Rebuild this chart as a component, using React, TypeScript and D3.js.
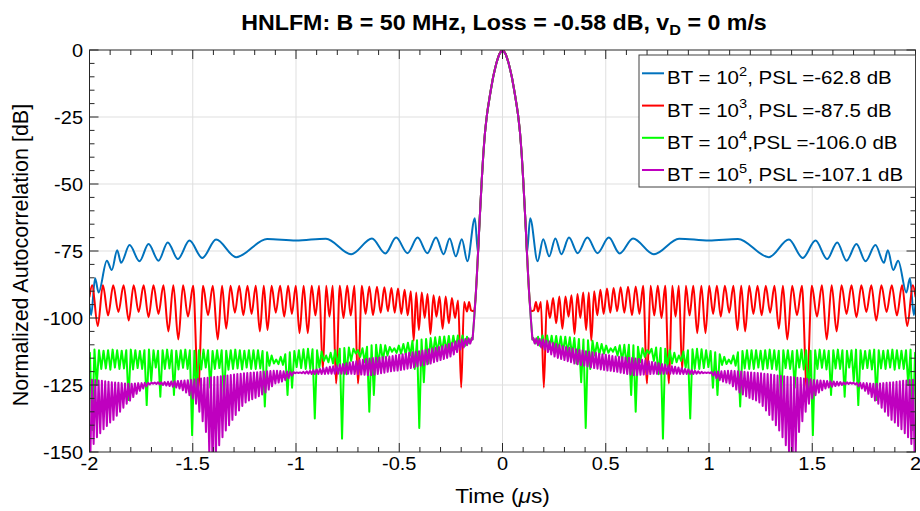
import React from 'react';
import * as d3 from 'd3';

const W = 920, H = 511;
const M = { left: 89.5, right: 915.5, top: 50, bottom: 452 };
const SX = 1.08;
const FONT = '"Liberation Sans", Arial, Helvetica, sans-serif';

const xTicks = [-2, -1.5, -1, -0.5, 0, 0.5, 1, 1.5, 2];
const xTickLabels = ['-2', '-1.5', '-1', '-0.5', '0', '0.5', '1', '1.5', '2'];
const yTicks = [0, -25, -50, -75, -100, -125, -150];
const yTickLabels = ['0', '-25', '-50', '-75', '-100', '-125', '-150'];

const legendExp = ['2', '3', '4', '5'];
const legendRest = [', PSL =-62.8 dB', ', PSL =-87.5 dB', ',PSL =-106.0 dB', ', PSL =-107.1 dB'];
const colors = ['#0072BD', '#FF0000', '#00FF00', '#BF00BF'];

// main lobe (shared), t >= 0 in microseconds, dB
const MAIN_LOBE_T = [0, 0.015, 0.03, 0.045, 0.06, 0.075, 0.085, 0.093, 0.1, 0.107, 0.113, 0.118, 0.124, 0.13, 0.137, 0.145];
const MAIN_LOBE_DB = [0, -1.5, -5, -10, -16.5, -24, -31, -39, -48, -58, -67, -75, -84, -92, -100, -108];

// BT = 10^2 sidelobes (peaks / nulls), t >= 0
const BLUE_SIDE: [number, number][] = [
  [0.118, -76], [0.134, -62.8], [0.17, -78.8], [0.197, -70.6], [0.226, -77], [0.256, -70.3], [0.285, -76.2],
  [0.322, -70], [0.364, -75.8], [0.411, -70], [0.46, -75.8], [0.515, -70], [0.567, -75.9], [0.632, -70.3],
  [0.733, -76.2], [0.855, -70.4], [1.0, -71.1], [1.14, -70.5], [1.29, -77.3], [1.387, -70.7], [1.454, -77.6],
  [1.516, -71.1], [1.572, -78], [1.621, -71.8], [1.666, -78.6], [1.714, -72.4], [1.758, -78.8], [1.806, -72.8],
  [1.847, -79.4], [1.866, -74.7], [1.892, -82.1], [1.916, -78.6], [1.956, -90.5], [1.973, -85.2], [1.992, -98.9],
  [2.0, -95]
];

// BT = 10^3 sidelobes, t >= 0
const RED_SIDE: [number, number][] = [
  [0.138, -97.5], [0.152, -97.2], [0.162, -94], [0.172, -97.6], [0.186, -94], [0.2, -126], [0.215, -93.5],
  [0.23, -100], [0.245, -92.5], [0.26, -102], [0.275, -92], [0.29, -104], [0.305, -92], [0.32, -99.5],
  [0.334, -91.5], [0.349, -106], [0.363, -91], [0.377, -100], [0.391, -90.5], [0.405, -104.5], [0.418, -90.5],
  [0.43, -108.5], [0.444, -90], [0.459, -99], [0.474, -89.5], [0.49, -98.5], [0.506, -89], [0.522, -98],
  [0.538, -88.8], [0.555, -97.5], [0.572, -88.5], [0.59, -98], [0.608, -88.3], [0.627, -99], [0.645, -88.2],
  [0.663, -98.5], [0.681, -88], [0.7, -124.4], [0.717, -88], [0.735, -99], [0.752, -88], [0.77, -100],
  [0.788, -88], [0.806, -124.4], [0.822, -88], [0.838, -99.5], [0.854, -88], [0.87, -119.4], [0.888, -88],
  [0.906, -99], [0.924, -88], [0.943, -105.7], [0.963, -88], [0.983, -105.7], [1.001, -88], [1.02, -98.5],
  [1.038, -88], [1.057, -99.5], [1.077, -88], [1.098, -98], [1.118, -88], [1.138, -104.5], [1.156, -88],
  [1.175, -105], [1.195, -88], [1.215, -98.5], [1.235, -88], [1.255, -99], [1.275, -88], [1.296, -98],
  [1.317, -88], [1.338, -104], [1.358, -88], [1.379, -108], [1.403, -88], [1.426, -99], [1.45, -88],
  [1.474, -127], [1.498, -88], [1.523, -99.5], [1.547, -87.8], [1.57, -108], [1.594, -87.8], [1.618, -105],
  [1.642, -87.8], [1.666, -98.5], [1.69, -87.8], [1.714, -99.7], [1.738, -87.8], [1.762, -97.8], [1.786, -87.8],
  [1.81, -100.9], [1.835, -87.8], [1.86, -97.8], [1.885, -87.8], [1.91, -99], [1.935, -87.8], [1.96, -103],
  [1.987, -87.8], [2.0, -92]
];

// BT = 10^4: per-cycle highs and lows (cycle 0.022 us, from t = 0.15)
const GREEN_T0 = 0.15, GREEN_HALF = 0.011;
const GREEN_HI = [
  -107.5, -107, -106.5, -106.5, -106.6, -106.7, -106.9, -107, -107.2, -107.5,
  -107.8, -108, -108.3, -108.5, -109.2, -109.7, -110.3, -111.3, -110.8, -110.2,
  -110, -110, -110.2, -110.7, -111.3, -112, -111.5, -111, -111.2, -111.5,
  -112, -113, -114, -112.5, -112, -111.7, -111.5, -111.7, -112, -112.3,
  -112.8, -113.5, -114.5, -115.5, -114, -112.8, -112.3, -112, -112, -112,
  -112.2, -112, -111.8, -112, -112.2, -112, -112, -112.3, -112, -111.8,
  -112, -112.2, -112, -111.8, -112, -112.2, -112, -111.8, -112, -112.2,
  -112, -111.8, -112, -112.3, -112, -111.8, -112, -112.2, -112, -111.8,
  -112, -112.2, -112, -111.8, -113
];
const GREEN_LO = [
  -109.5, -110.5, -111.2, -111.6, -112, -112.3, -112.7, -113, -113.8, -117,
  -124, -141, -119, -114, -113.6, -113.3, -113, -112.6, -114, -116,
  -117.5, -128.7, -135, -116.5, -114.5, -113.2, -116, -121, -145, -118,
  -117, -116.5, -116, -118.5, -137.5, -119, -119, -118.7, -118.3, -126,
  -128.7, -117.5, -117.2, -117, -117.8, -133, -118.8, -119, -119, -118.5,
  -119.2, -118.8, -119, -119.3, -130.6, -118.7, -119, -126, -118.5, -119.2,
  -128, -143.7, -119, -118.6, -119.2, -128.7, -118.8, -119, -129.4, -118.5,
  -123.5, -132.5, -119, -118.7, -119.2, -130.6, -118.8, -119, -118.5, -119.3,
  -118.8, -119, -125, -141.8
];

// BT = 10^5: per-cycle highs and lows (cycle 0.016 us, from t = 0.148)
const PURPLE_T0 = 0.148, PURPLE_HALF = 0.008;
const PURPLE_HI = [
  -107.5, -107.6, -107.8, -108, -108.4, -108.8, -109.3, -109.7, -110.1, -110.5,
  -110.8, -111.1, -111.4, -111.7, -111.9, -112.1, -112.4, -112.6, -112.8, -113,
  -113.3, -113.5, -113.7, -113.9, -114.2, -114.4, -114.5, -114.6, -114.7, -114.8,
  -114.9, -115.1, -115.3, -115.6, -115.8, -116.1, -116.4, -116.6, -116.9, -117.2,
  -117.4, -117.7, -118, -118.2, -118.5, -118.7, -119, -119.2, -119.5, -119.7,
  -119.9, -120.1, -120.3, -120.3, -120.2, -120.1, -120, -119.9, -119.8, -119.7,
  -119.7, -119.8, -119.9, -120, -120.1, -120.2, -120.3, -120.4, -120.5, -120.6,
  -120.8, -120.9, -121.1, -121.3, -121.5, -121.6, -121.7, -121.9, -122, -122.1,
  -122.3, -122.4, -122.6, -122.8, -122.9, -123.1, -123.2, -123.3, -123.4, -123.5,
  -123.6, -123.7, -123.8, -123.9, -124, -124, -124.1, -124.1, -124.2, -124.2,
  -124.3, -124.3, -124.4, -124.5, -124.5, -124.4, -124.3, -124.2, -124.1, -124,
  -123.8, -123.6, -123.4, -123.3, -123.1, -123
];
const PURPLE_LO = [
  -109.5, -110.2, -111, -111.8, -112.7, -113.6, -114.4, -114.9, -115.3, -115.7,
  -116.1, -116.5, -117, -117.3, -117.6, -117.8, -118.1, -118.4, -118.7, -118.9,
  -119.2, -119.4, -119.6, -119.7, -119.9, -120.1, -120.4, -120.6, -120.9, -121.1,
  -121.3, -121.3, -121.2, -121.1, -121, -120.9, -120.8, -120.8, -120.8, -120.8,
  -120.8, -120.8, -120.8, -120.8, -120.9, -120.9, -120.9, -120.9, -120.9, -120.8,
  -120.7, -120.6, -120.5, -120.6, -121.5, -122.5, -123.2, -123.7, -124.1, -124.4,
  -125.5, -126.7, -127.8, -128.5, -129.2, -129.8, -130.3, -130.8, -131.5, -132.8,
  -134.5, -136.2, -138, -140, -142, -144.5, -147.5, -152, -155, -150,
  -142.5, -138.5, -135, -132, -130, -128.8, -127.8, -127, -126.3, -125.9,
  -125.6, -125.4, -125.2, -125, -124.8, -124.6, -124.5, -124.8, -125.5, -126.3,
  -127.2, -128.3, -129.5, -130.8, -132, -133.5, -135, -136.5, -138, -139,
  -140.3, -141.5, -143, -144.5, -147, -152
];

type P = [number, number];

function mainLobe(maxT: number): P[] {
  return MAIN_LOBE_T.map((t, i) => [t, MAIN_LOBE_DB[i]] as P).filter(p => p[0] <= maxT + 1e-9);
}
function interleave(hi: number[], lo: number[], t0: number, h: number): P[] {
  const out: P[] = [];
  for (let k = 0; k < hi.length; k++) {
    out.push([t0 + 2 * k * h, hi[k]]);
    if (k < lo.length) out.push([t0 + (2 * k + 1) * h, lo[k]]);
  }
  return out;
}
function mirror(half: P[]): P[] {
  const left = half.filter(p => p[0] > 0).map(p => [-p[0], p[1]] as P).reverse();
  return left.concat(half);
}

const x = d3.scaleLinear().domain([-2, 2]).range([M.left, M.right]);
const y = d3.scaleLinear().domain([-150, 0]).range([M.bottom, M.top]);

const seriesData: { pts: P[]; curve: any; color: string }[] = [
  { pts: mirror(mainLobe(0.113).concat(BLUE_SIDE)), curve: d3.curveMonotoneX, color: colors[0] },
  { pts: mirror(mainLobe(0.13).concat(RED_SIDE)), curve: d3.curveMonotoneX, color: colors[1] },
  { pts: mirror(mainLobe(0.145).concat(interleave(GREEN_HI, GREEN_LO, GREEN_T0, GREEN_HALF))), curve: d3.curveLinear, color: colors[2] },
  { pts: mirror(mainLobe(0.145).concat(interleave(PURPLE_HI, PURPLE_LO, PURPLE_T0, PURPLE_HALF))), curve: d3.curveLinear, color: colors[3] },
];

function Txt(props: { x: number; y: number; size: number; anchor?: string; weight?: string; rotate?: number; children: any }) {
  const { x: tx, y: ty, size, anchor = 'start', weight = 'normal', rotate, children } = props;
  const tr = rotate ? `translate(${tx},${ty}) rotate(${rotate})` : `translate(${tx},${ty}) scale(${SX},1)`;
  return (
    <text transform={tr} fontSize={size} fontFamily={FONT} fontWeight={weight} textAnchor={anchor} fill="#000">
      {children}
    </text>
  );
}

export default function App() {
  const xMinor = d3.range(-20, 21).map(i => i / 10).filter(v => Math.abs(v * 2 - Math.round(v * 2)) > 1e-6);
  const yMinor = d3.range(-150, 1, 5).filter(v => v % 25 !== 0);
  const MAJ = 9, MIN = 5;
  const axisColor = '#262626';

  const lineGen = (curve: any) => d3.line<P>().x(d => x(d[0])).y(d => y(d[1])).curve(curve);

  const legX = 639, legY = 55, legW = M.right - 639, legH = 132;
  const rowY = [73.3, 105.6, 137.8, 170];

  return (
    <svg width={W} height={H} style={{ position: 'absolute', left: 0, top: 0, background: '#fff' }}>
      <defs>
        <clipPath id="plotClip">
          <rect x={M.left} y={M.top} width={M.right - M.left} height={M.bottom - M.top} />
        </clipPath>
      </defs>
      <rect x={0} y={0} width={W} height={H} fill="#fff" />
      {/* grid */}
      <g stroke="#dfdfdf" strokeWidth={1}>
        {xTicks.slice(1, -1).map(t => (
          <line key={'gx' + t} x1={x(t)} x2={x(t)} y1={M.top} y2={M.bottom} />
        ))}
        {yTicks.slice(1, -1).map(t => (
          <line key={'gy' + t} x1={M.left} x2={M.right} y1={y(t)} y2={y(t)} />
        ))}
      </g>
      {/* series */}
      <g clipPath="url(#plotClip)" fill="none" strokeLinejoin="round" strokeLinecap="round">
        {seriesData.map((s, i) => (
          <path key={i} d={lineGen(s.curve)(s.pts) || ''} stroke={s.color} strokeWidth={2} />
        ))}
      </g>
      {/* axes box and ticks */}
      <g stroke={axisColor} strokeWidth={1} fill="none">
        <rect x={M.left} y={M.top} width={M.right - M.left} height={M.bottom - M.top} />
        {xTicks.map(t => (
          <g key={'xt' + t}>
            <line x1={x(t)} x2={x(t)} y1={M.bottom} y2={M.bottom - MAJ} />
            <line x1={x(t)} x2={x(t)} y1={M.top} y2={M.top + MAJ} />
          </g>
        ))}
        {xMinor.map(t => (
          <g key={'xm' + t}>
            <line x1={x(t)} x2={x(t)} y1={M.bottom} y2={M.bottom - MIN} />
            <line x1={x(t)} x2={x(t)} y1={M.top} y2={M.top + MIN} />
          </g>
        ))}
        {yTicks.map(t => (
          <g key={'yt' + t}>
            <line x1={M.left} x2={M.left + MAJ} y1={y(t)} y2={y(t)} />
            <line x1={M.right} x2={M.right - MAJ} y1={y(t)} y2={y(t)} />
          </g>
        ))}
        {yMinor.map(t => (
          <g key={'ym' + t}>
            <line x1={M.left} x2={M.left + MIN} y1={y(t)} y2={y(t)} />
            <line x1={M.right} x2={M.right - MIN} y1={y(t)} y2={y(t)} />
          </g>
        ))}
      </g>
      {/* tick labels */}
      {xTicks.map((t, i) => (
        <Txt key={'xl' + t} x={x(t)} y={470} size={18.5} anchor="middle">{xTickLabels[i]}</Txt>
      ))}
      {yTicks.map((t, i) => (
        <Txt key={'yl' + t} x={83} y={y(t) + 6.5} size={18.5} anchor="end">{yTickLabels[i]}</Txt>
      ))}
      {/* axis labels */}
      <Txt x={(M.left + M.right) / 2} y={503} size={21} anchor="middle">
        Time (<tspan fontStyle="italic">μ</tspan>s)
      </Txt>
      <Txt x={28} y={(M.top + M.bottom) / 2 + 4} size={21.5} anchor="middle" rotate={-90}>
        Normalized Autocorrelation [dB]
      </Txt>
      {/* title */}
      <Txt x={504} y={30} size={21.5} anchor="middle" weight="bold">
        HNLFM: B = 50 MHz, Loss = -0.58 dB, v<tspan dy={5} fontSize={15}>D</tspan><tspan dy={-5}> = 0 m/s</tspan>
      </Txt>
      {/* legend */}
      <rect x={legX} y={legY} width={legW} height={legH} fill="#fff" stroke="#404040" strokeWidth={1} />
      {legendExp.map((e, i) => (
        <g key={'lg' + i}>
          <line x1={642} x2={664} y1={rowY[i]} y2={rowY[i]} stroke={colors[i]} strokeWidth={2} />
          <Txt x={667} y={rowY[i] + 11} size={19}>
            BT = 10<tspan dy={-8.5} fontSize={13.5}>{e}</tspan><tspan dy={8.5}>{legendRest[i]}</tspan>
          </Txt>
        </g>
      ))}
    </svg>
  );
}
